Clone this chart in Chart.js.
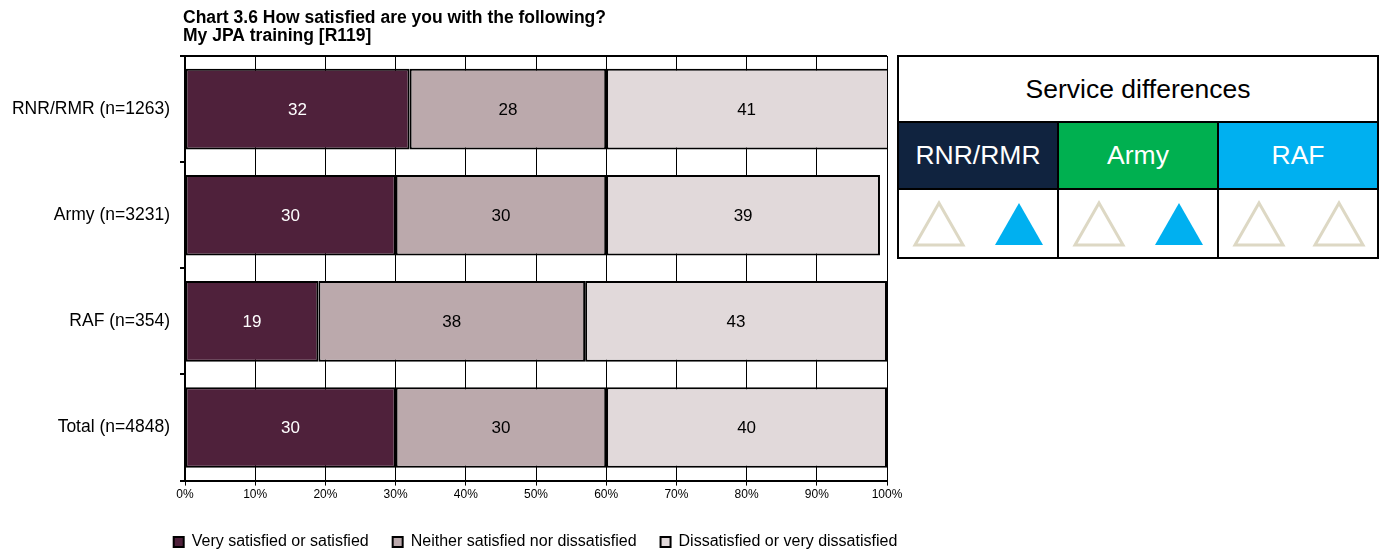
<!DOCTYPE html>
<html>
<head>
<meta charset="utf-8">
<title>JPA training satisfaction</title>
<script src="https://cdn.jsdelivr.net/npm/chart.js@4.4.0/dist/chart.umd.min.js"></script>
<style>
    body { margin: 0; background: #fff; font-family: Arial, "Liberation Sans", sans-serif; }
    #wrap { position: relative; width: 1383px; height: 552px; overflow: hidden; }
    #satisfactionChart { position: absolute; left: 0; top: 0; }
    #serviceTable {
        position: absolute; left: 897px; top: 55px; z-index: 2;
        border-collapse: collapse; table-layout: fixed; background: #fff;
    }
    #serviceTable td { border: 2px solid #000; padding: 0; text-align: center; vertical-align: middle; }
    #serviceTable .head { height: 64px; font-size: 26.5px; color: #000; }
    #serviceTable .svc { height: 65px; font-size: 26.5px; color: #fff; width: 158px; }
    #serviceTable .marks { height: 67px; }
    #serviceTable svg { display: block; }
</style>
</head>
<body>
<div id="wrap">
    <canvas id="satisfactionChart" width="1072" height="552"></canvas>
    <table id="serviceTable"></table>
</div>
<script>
var titleLines = ['Chart 3.6 How satisfied are you with the following?', 'My JPA training [R119]'];
var categories = ['RNR/RMR (n=1263)', 'Army (n=3231)', 'RAF (n=354)', 'Total (n=4848)'];
var seriesNames = ['Very satisfied or satisfied', 'Neither satisfied nor dissatisfied', 'Dissatisfied or very dissatisfied'];
var satisfied = [32, 30, 19, 30];
var neither = [28, 30, 38, 30];
var dissatisfied = [41, 39, 43, 40];
var axisTicks = [0, 10, 20, 30, 40, 50, 60, 70, 80, 90, 100];

// service differences panel
var tableHeading = 'Service differences';
var services = ['RNR/RMR', 'Army', 'RAF'];
var serviceMarks = [['open', 'filled'], ['open', 'filled'], ['open', 'open']];

var fontFamily = 'Arial, "Liberation Sans", sans-serif';
var serviceColours = ['#10233f', '#00b050', '#00b0f0'];

Chart.defaults.font.family = fontFamily;
Chart.defaults.color = '#000';

function triangle(kind, cx) {
    var pts = (cx - 24) + ',55 ' + cx + ',13 ' + (cx + 24) + ',55';
    if (kind === 'filled') {
        return '<polygon points="' + pts + '" fill="#00b0f0"/>';
    }
    return '<polygon points="' + pts + '" fill="none" stroke="#ddd8c4" stroke-width="3"/>';
}

var table = document.getElementById('serviceTable');
var html = '<tr><td class="head" colspan="3">' + tableHeading + '</td></tr><tr>';
services.forEach(function (name, i) {
    html += '<td class="svc" style="background:' + serviceColours[i] + '">' + name + '</td>';
});
html += '</tr><tr>';
serviceMarks.forEach(function (pair) {
    html += '<td class="marks"><svg width="158" height="67">' +
        triangle(pair[0], 40) + triangle(pair[1], 120) + '</svg></td>';
});
html += '</tr>';
table.innerHTML = html;

// value labels in the middle of each segment
var barValueLabels = {
    id: 'barValueLabels',
    afterDatasetsDraw: function (chart) {
        var ctx = chart.ctx;
        var area = chart.chartArea;
        ctx.save();
        ctx.font = '17px ' + fontFamily;
        ctx.textAlign = 'center';
        ctx.textBaseline = 'middle';
        chart.data.datasets.forEach(function (ds, i) {
            chart.getDatasetMeta(i).data.forEach(function (bar, j) {
                var left = Math.max(Math.min(bar.base, bar.x), area.left);
                var right = Math.min(Math.max(bar.base, bar.x), area.right);
                ctx.fillStyle = ds.labelColor;
                ctx.fillText(ds.data[j], (left + right) / 2, bar.y + 1);
            });
        });
        ctx.restore();
    }
};

// heading above the plot, frame line along its top, legend placement
var chartFrame = {
    id: 'chartFrame',
    beforeInit: function (chart) {
        var fit = chart.legend.fit;
        chart.legend.fit = function () {
            fit.call(this);
            this.height -= 2;
        };
    },
    afterLayout: function (chart) {
        // centre the legend under the plot rather than the padded box
        var lg = chart.legend;
        lg.left += 88;
        lg.right += 88;
        lg.top += 6;
        lg.bottom += 6;
    },
    afterDraw: function (chart) {
        var ctx = chart.ctx;
        var area = chart.chartArea;
        ctx.save();
        ctx.fillStyle = '#000';
        ctx.fillRect(area.left - 2, area.top - 1, area.right - area.left + 2, 2);
        ctx.font = 'bold 17.5px ' + fontFamily;
        ctx.textAlign = 'left';
        ctx.textBaseline = 'alphabetic';
        ctx.fillText(titleLines[0], area.left - 2, 23);
        ctx.fillText(titleLines[1], area.left - 2, 41);
        ctx.restore();
    }
};

var ctx = document.getElementById('satisfactionChart').getContext('2d');
var satisfactionChart = new Chart(ctx, {
    type: 'bar',
    data: {
        labels: categories,
        datasets: [{
            label: seriesNames[0],
            data: satisfied,
            backgroundColor: '#4f213b',
            labelColor: '#fff'
        }, {
            label: seriesNames[1],
            data: neither,
            backgroundColor: '#bba9ac',
            labelColor: '#000'
        }, {
            label: seriesNames[2],
            data: dissatisfied,
            backgroundColor: '#e1d9da',
            labelColor: '#000'
        }]
    },
    options: {
        indexAxis: 'y',
        responsive: false,
        animation: false,
        devicePixelRatio: 1,
        layout: { padding: { left: 8, right: 185, top: 56, bottom: 0 } },
        datasets: {
            bar: {
                borderColor: '#000',
                borderWidth: 2,
                borderSkipped: false,
                barPercentage: 0.76,
                categoryPercentage: 1
            }
        },
        scales: {
            x: {
                stacked: true,
                min: 0,
                max: 100,
                afterBuildTicks: function (scale) {
                    scale.ticks = axisTicks.map(function (v) { return { value: v }; });
                },
                ticks: {
                    font: { size: 12 },
                    padding: 2,
                    callback: function (v) { return v + '%'; }
                },
                grid: { color: '#000', lineWidth: 1, tickLength: 5 },
                border: { color: '#000', width: 2 }
            },
            y: {
                stacked: true,
                afterFit: function (scale) { scale.width = 177; },
                ticks: { font: { size: 17.5 }, padding: 10 },
                grid: { drawOnChartArea: false, color: '#000', lineWidth: 2, tickLength: 5, offset: true },
                border: { color: '#000', width: 2 }
            }
        },
        plugins: {
            title: { display: false },
            tooltip: { enabled: false },
            legend: {
                position: 'bottom',
                labels: {
                    boxWidth: 10,
                    boxHeight: 10,
                    padding: 24,
                    font: { size: 16 }
                }
            }
        }
    },
    plugins: [barValueLabels, chartFrame]
});
</script>
</body>
</html>
